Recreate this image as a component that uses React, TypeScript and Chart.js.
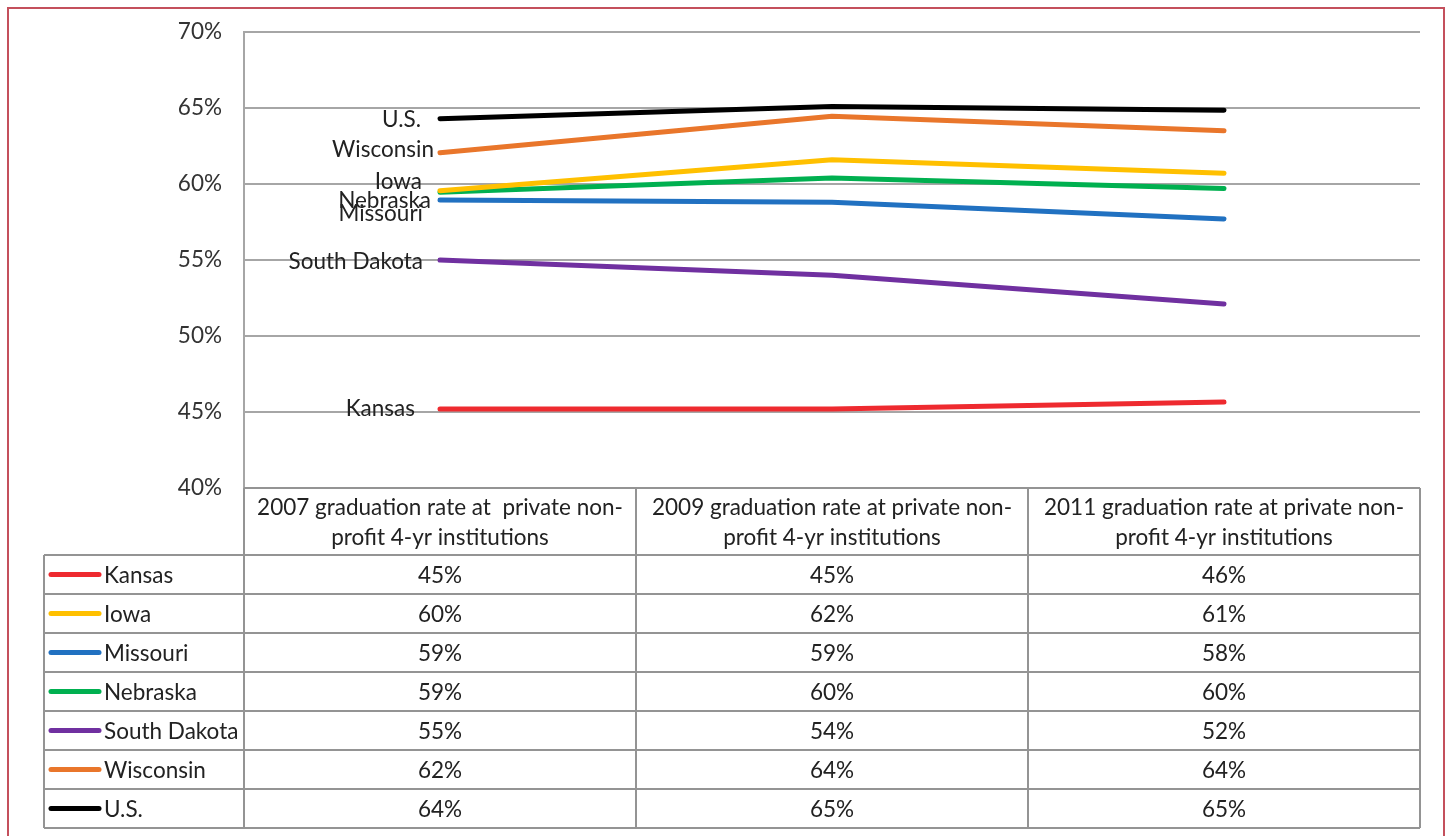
import React, { useEffect, useRef } from "react";
import { Chart, registerables } from "chart.js";

Chart.register(...registerables);

const categories: string[][] = [
  ["2007 graduation rate at  private non-", "profit 4-yr institutions"],
  ["2009 graduation rate at private non-", "profit 4-yr institutions"],
  ["2011 graduation rate at private non-", "profit 4-yr institutions"],
];
const seriesNames = ["Kansas", "Iowa", "Missouri", "Nebraska", "South Dakota", "Wisconsin", "U.S."];
const kansas = [45.2, 45.2, 45.65];
const iowa = [59.55, 61.6, 60.7];
const missouri = [58.95, 58.8, 57.7];
const nebraska = [59.45, 60.4, 59.7];
const southDakota = [55.0, 54.0, 52.1];
const wisconsin = [62.05, 64.45, 63.5];
const us = [64.3, 65.1, 64.85];
const seriesValues = [kansas, iowa, missouri, nebraska, southDakota, wisconsin, us];
const yTickValues = [40, 45, 50, 55, 60, 65, 70];

const COLORS = ["#ee2a2f", "#ffc000", "#2171c1", "#00b050", "#7030a0", "#e9762b", "#000000"];
const FONT = "Lato, 'Open Sans', sans-serif";
const FONT_SIZE = 22.5;
// label nudges [dx from point, dy from point]
const LABEL_NUDGE: number[][] = [
  [-25, 0], [-18, -9], [-17, 14], [-9, 8], [-17, 2], [-6, -3], [-19, 1],
];

const GRID = "#a6a6a6";
const TABLE_LINE = "#949494";
const TEXT = "#222222";

const tablePlugin = {
  id: "dataTablePlugin",
  afterDraw(chart: any) {
    const ctx = chart.ctx as CanvasRenderingContext2D;
    const xs = chart.scales.x;
    const area = chart.chartArea;
    const n = categories.length;
    const edges: number[] = [area.left];
    for (let i = 0; i < n - 1; i++) {
      edges.push((xs.getPixelForValue(i) + xs.getPixelForValue(i + 1)) / 2);
    }
    edges.push(area.right);

    const headTop = area.bottom;
    const headH = 67;
    const rowH = 39;
    const rowsTop = headTop + headH;
    const tableLeft = 44;
    const tableBottom = rowsTop + rowH * seriesNames.length;

    ctx.save();
    ctx.strokeStyle = TABLE_LINE;
    ctx.lineWidth = 2;
    for (const e of edges) {
      ctx.beginPath();
      ctx.moveTo(e, headTop);
      ctx.lineTo(e, tableBottom);
      ctx.stroke();
    }
    ctx.beginPath();
    ctx.moveTo(tableLeft, rowsTop);
    ctx.lineTo(tableLeft, tableBottom);
    ctx.stroke();
    ctx.beginPath();
    ctx.moveTo(area.left, headTop);
    ctx.lineTo(area.right, headTop);
    ctx.stroke();
    for (let r = 0; r <= seriesNames.length; r++) {
      const y = rowsTop + r * rowH;
      ctx.beginPath();
      ctx.moveTo(tableLeft, y);
      ctx.lineTo(area.right, y);
      ctx.stroke();
    }

    ctx.fillStyle = TEXT;
    ctx.font = `${FONT_SIZE}px ${FONT}`;
    ctx.textAlign = "center";
    ctx.textBaseline = "middle";
    for (let i = 0; i < n; i++) {
      const cx = (edges[i] + edges[i + 1]) / 2;
      categories[i].forEach((ln, k) => {
        ctx.fillText(ln, cx, headTop + 20 + k * 30);
      });
    }

    for (let r = 0; r < seriesNames.length; r++) {
      const cy = rowsTop + r * rowH + rowH / 2;
      ctx.strokeStyle = COLORS[r];
      ctx.lineWidth = 5;
      ctx.lineCap = "round";
      ctx.beginPath();
      ctx.moveTo(51, cy);
      ctx.lineTo(99, cy);
      ctx.stroke();
      ctx.fillStyle = TEXT;
      ctx.textAlign = "left";
      ctx.fillText(seriesNames[r], 104, cy + 1);
      ctx.textAlign = "center";
      for (let i = 0; i < n; i++) {
        const cx = (edges[i] + edges[i + 1]) / 2;
        ctx.fillText(Math.round(seriesValues[r][i]) + "%", cx, cy + 1);
      }
    }

    ctx.font = `${FONT_SIZE}px ${FONT}`;
    ctx.textAlign = "right";
    ctx.textBaseline = "middle";
    ctx.fillStyle = TEXT;
    chart.data.datasets.forEach((ds: any, di: number) => {
      const meta = chart.getDatasetMeta(di);
      const pt = meta.data[0];
      const [dx, dy] = LABEL_NUDGE[di];
      ctx.fillText(ds.label, pt.x + dx, pt.y + dy);
    });

    ctx.strokeStyle = "#c4505c";
    ctx.lineWidth = 2;
    ctx.strokeRect(8, 8, 1436, 900);
    ctx.restore();
  },
};

export default function App() {
  const ref = useRef<HTMLCanvasElement | null>(null);
  useEffect(() => {
    if (!ref.current) return;
    const chart = new Chart(ref.current, {
      type: "line",
      data: {
        labels: categories,
        datasets: seriesNames.map((name, i) => ({
          label: name,
          data: seriesValues[i],
          borderColor: COLORS[i],
          backgroundColor: COLORS[i],
          borderWidth: 5,
          borderCapStyle: "round" as const,
          borderJoinStyle: "round" as const,
          pointRadius: 0,
          tension: 0,
        })),
      },
      options: {
        responsive: false,
        animation: false,
        devicePixelRatio: 1,
        layout: { padding: { left: 0, top: 32, right: 29, bottom: 348 } },
        plugins: { legend: { display: false }, tooltip: { enabled: false } },
        scales: {
          x: {
            type: "category",
            offset: true,
            display: false,
          },
          y: {
            min: 40,
            max: 70,
            afterFit: (s: any) => { s.width = 244; s.paddingTop = 0; s.paddingBottom = 0; },
            afterBuildTicks: (s: any) => { s.ticks = yTickValues.map((v) => ({ value: v })); },
            ticks: {
              padding: 22,
              color: "#333333",
              font: { family: FONT, size: FONT_SIZE },
              callback: (v: any) => v + "%",
            },
            grid: { color: GRID, lineWidth: 2, drawTicks: false },
            border: { color: GRID, width: 2 },
          },
        },
      },
      plugins: [tablePlugin],
    });
    return () => chart.destroy();
  }, []);
  return (
    <div style={{ position: "absolute", left: 0, top: 0, width: 1449, height: 836, background: "#fff" }}>
      <canvas ref={ref} width={1449} height={836} />
    </div>
  );
}
